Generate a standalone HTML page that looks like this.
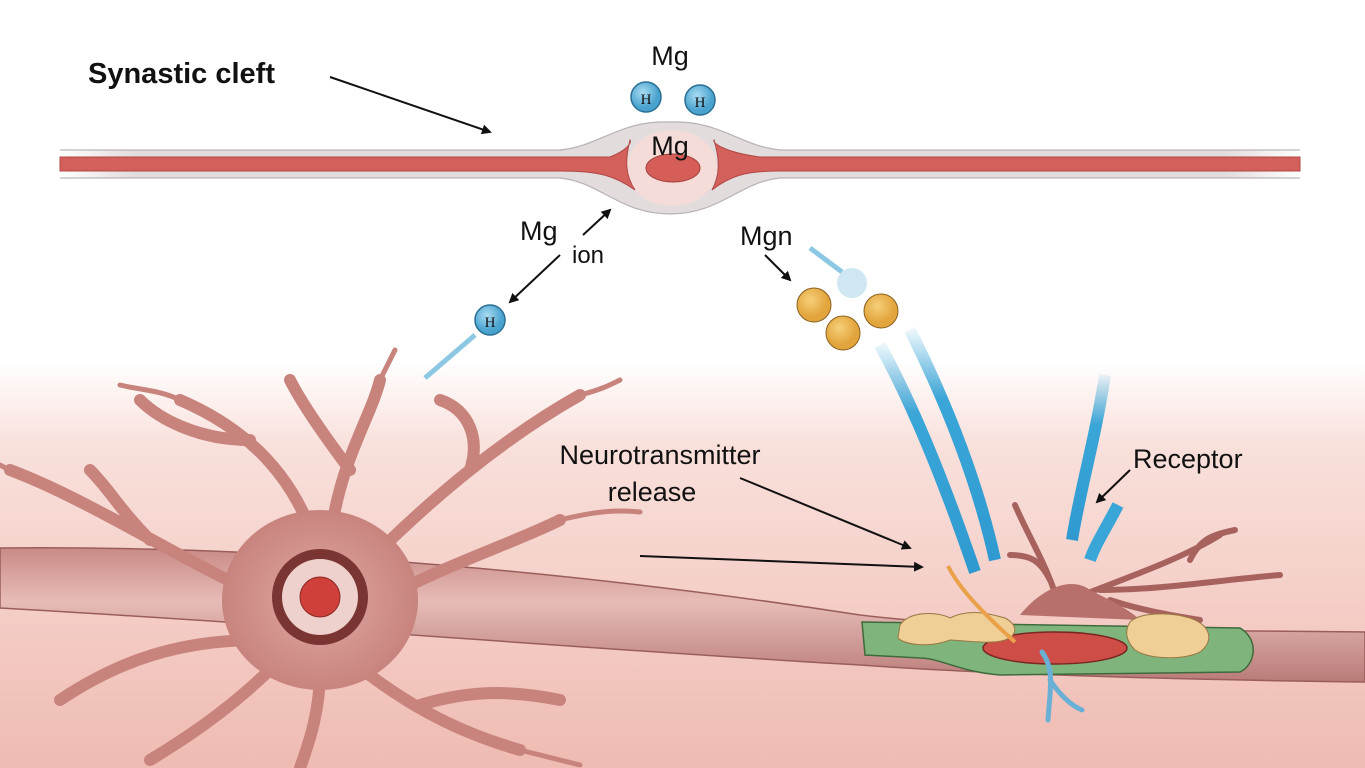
<!DOCTYPE html>
<html><head><meta charset="utf-8"><style>
html,body{margin:0;padding:0;background:#fff}
svg{display:block}
text{font-family:"Liberation Sans",sans-serif;fill:#111}
</style></head><body>
<svg width="1365" height="768" viewBox="0 0 1365 768" xmlns="http://www.w3.org/2000/svg">
<defs>
<linearGradient id="bg" x1="0" y1="0" x2="0" y2="1">
<stop offset="0" stop-color="#fff"/><stop offset="0.47" stop-color="#fff"/><stop offset="0.58" stop-color="#f9e0db"/><stop offset="1" stop-color="#efbbb2"/></linearGradient>
<linearGradient id="ax" x1="0" y1="0" x2="0" y2="1">
<stop offset="0" stop-color="#c98a86"/><stop offset="0.4" stop-color="#e7bcb7"/><stop offset="1" stop-color="#b97b78"/></linearGradient>
<radialGradient id="soma"><stop offset="0" stop-color="#e2aaa4"/><stop offset="1" stop-color="#c8837d"/></radialGradient>
<linearGradient id="blue" x1="0" y1="0" x2="0" y2="1"><stop offset="0" stop-color="#3aa6d8" stop-opacity="0.1"/><stop offset="0.3" stop-color="#3aa6d8"/><stop offset="1" stop-color="#2f9ad0"/></linearGradient>
<marker id="ar" markerWidth="10" markerHeight="10" refX="8" refY="5" orient="auto" markerUnits="userSpaceOnUse"><path d="M0,0 L10,5 L0,10 z" fill="#111"/></marker>
<radialGradient id="hb" cx="0.4" cy="0.35"><stop offset="0" stop-color="#a9dcf2"/><stop offset="1" stop-color="#4aa3cf"/></radialGradient>
<radialGradient id="ob" cx="0.4" cy="0.35"><stop offset="0" stop-color="#f6d07a"/><stop offset="1" stop-color="#e2a43c"/></radialGradient>
<linearGradient id="mem" x1="0" y1="0" x2="1" y2="0"><stop offset="0" stop-color="#e3dcdc" stop-opacity="0"/><stop offset="0.06" stop-color="#e3dcdc"/><stop offset="0.94" stop-color="#e3dcdc"/><stop offset="1" stop-color="#e3dcdc" stop-opacity="0"/></linearGradient>
</defs>
<rect width="1365" height="768" fill="url(#bg)"/>

<path d="M60,150 L560,150 C600,146 620,120 670,122 C720,120 740,146 780,150 L1300,150 L1300,178 L780,178 C740,182 720,214 670,214 C620,214 600,182 560,178 L60,178 Z" fill="url(#mem)"/>
<path d="M60,150 L560,150 C600,146 620,120 670,122 C720,120 740,146 780,150 L1300,150 M1300,178 L780,178 C740,182 720,214 670,214 C620,214 600,182 560,178 L60,178" fill="none" stroke="#a09a9c" stroke-width="1.2" stroke-opacity="0.7"/>
<ellipse cx="672" cy="168" rx="45" ry="38" fill="#f6dcd8"/>
<path d="M60,157 L610,157 C628,150 632,142 630,140 C625,160 625,175 635,190 C615,176 600,171 560,171 L60,171 Z" fill="#d4605c" stroke="#b04845"/>
<path d="M1300,157 L760,157 C722,152 712,142 714,140 C720,160 720,175 712,190 C730,176 745,171 780,171 L1300,171 Z" fill="#d4605c" stroke="#b04845"/>
<ellipse cx="673" cy="168" rx="27" ry="14" fill="#d65e58" stroke="#a0403c"/>
<text x="670" y="155" font-size="27" text-anchor="middle">Mg</text>
<text x="670" y="65" font-size="27" text-anchor="middle">Mg</text>
<circle cx="646" cy="97" r="15" fill="url(#hb)" stroke="#2a6e93" stroke-width="1.5"/><text x="646" y="104" font-size="15" text-anchor="middle" style="font-family:'Liberation Serif'">H</text>
<circle cx="700" cy="100" r="15" fill="url(#hb)" stroke="#2a6e93" stroke-width="1.5"/><text x="700" y="107" font-size="15" text-anchor="middle" style="font-family:'Liberation Serif'">H</text>

<text x="88" y="83" font-size="29" font-weight="bold">Synastic cleft</text>
<line x1="330" y1="77" x2="490" y2="132" stroke="#111" stroke-width="2" marker-end="url(#ar)"/>

<text x="520" y="240" font-size="27">Mg</text>
<text x="572" y="263" font-size="24">ion</text>
<line x1="583" y1="235" x2="610" y2="210" stroke="#111" stroke-width="2" marker-end="url(#ar)"/>
<line x1="560" y1="255" x2="510" y2="302" stroke="#111" stroke-width="2" marker-end="url(#ar)"/>
<line x1="425" y1="378" x2="475" y2="335" stroke="#8cc8e4" stroke-width="5"/>
<circle cx="490" cy="320" r="15" fill="url(#hb)" stroke="#2a6e93" stroke-width="1.5"/><text x="490" y="327" font-size="15" text-anchor="middle" style="font-family:'Liberation Serif'">H</text>

<text x="740" y="245" font-size="27">Mgn</text>
<line x1="765" y1="255" x2="790" y2="280" stroke="#111" stroke-width="2" marker-end="url(#ar)"/>
<line x1="810" y1="248" x2="842" y2="272" stroke="#8cc8e4" stroke-width="5"/>
<circle cx="852" cy="283" r="15" fill="#cfe7f2"/>
<circle cx="814" cy="305" r="17" fill="url(#ob)" stroke="#8a6020"/>
<circle cx="843" cy="333" r="17" fill="url(#ob)" stroke="#8a6020"/>
<circle cx="881" cy="311" r="17" fill="url(#ob)" stroke="#8a6020"/>

<path d="M0,548 C300,545 600,575 860,615 C1000,632 1200,630 1365,632 L1365,682 C1200,680 1000,675 860,665 C600,650 300,625 0,608 Z" fill="url(#ax)" stroke="#9a5e5a" stroke-width="1.5"/>
<g stroke="#c8837d" stroke-width="12" fill="none" stroke-linecap="round">
<path d="M320,560 C300,480 250,430 180,400"/><path d="M250,440 C200,440 160,420 140,400"/>
<path d="M330,540 C340,460 370,420 380,380"/><path d="M350,470 C320,430 300,400 290,380"/>
<path d="M370,560 C430,500 500,440 580,395"/><path d="M470,470 C480,440 470,410 440,400"/>
<path d="M400,590 C460,560 520,540 560,520"/>
<path d="M270,600 C180,560 90,500 10,470"/><path d="M150,540 C120,510 110,490 90,470"/>
<path d="M350,660 C400,700 450,730 520,750"/><path d="M420,705 C470,690 510,690 560,700"/>
<path d="M280,660 C240,700 200,730 150,760"/><path d="M320,670 C320,710 310,740 300,768"/>
<path d="M260,640 C180,640 120,660 60,700"/>
</g>
<g stroke="#c8837d" stroke-width="5" fill="none" stroke-linecap="round">
<path d="M180,400 C160,390 140,390 120,385"/><path d="M380,380 C385,370 390,360 395,350"/><path d="M580,395 C600,390 610,385 620,380"/>
<path d="M10,470 C5,468 2,466 0,465"/><path d="M520,750 C540,755 560,760 580,765"/><path d="M560,520 C600,510 620,510 640,512"/>
</g>
<ellipse cx="320" cy="600" rx="98" ry="90" fill="url(#soma)"/>
<circle cx="320" cy="597" r="48" fill="#7a3532"/>
<circle cx="320" cy="597" r="38" fill="#eed0cd"/>
<circle cx="320" cy="597" r="20" fill="#d0403a" stroke="#8a2a26"/>

<text x="660" y="464" font-size="27" text-anchor="middle">Neurotransmitter</text>
<text x="652" y="501" font-size="27" text-anchor="middle">release</text>
<line x1="740" y1="478" x2="910" y2="548" stroke="#111" stroke-width="2" marker-end="url(#ar)"/>
<line x1="640" y1="556" x2="922" y2="567" stroke="#111" stroke-width="2" marker-end="url(#ar)"/>
<text x="1133" y="468" font-size="27">Receptor</text>
<line x1="1130" y1="470" x2="1097" y2="502" stroke="#111" stroke-width="2" marker-end="url(#ar)"/>

<path d="M880,345 C910,400 940,470 975,572" stroke="url(#blue)" stroke-width="12" fill="none"/>
<path d="M910,330 C940,390 975,470 995,560" stroke="url(#blue)" stroke-width="12" fill="none"/>
<path d="M1105,375 C1095,440 1080,490 1072,540" stroke="url(#blue)" stroke-width="12" fill="none"/>
<path d="M1118,505 C1105,530 1095,545 1090,560" stroke="#3aa6d8" stroke-width="12" fill="none"/>

<g stroke="#a8625e" stroke-width="6" fill="none" stroke-linecap="round">
<path d="M1060,610 C1050,570 1030,540 1015,505"/><path d="M1050,580 C1040,560 1030,555 1010,555"/>
<path d="M1070,600 C1120,580 1180,560 1220,535"/><path d="M1100,590 C1160,590 1220,580 1280,575"/>
<path d="M1110,600 C1140,610 1170,615 1200,620"/><path d="M1190,560 C1200,540 1210,535 1235,530"/>
</g>
<path d="M1020,615 C1040,590 1070,575 1090,590 C1110,600 1130,610 1140,620 Z" fill="#b8706c"/>
<path d="M862,622 L1240,628 C1260,640 1255,665 1240,672 L1000,675 C960,672 940,658 920,658 L865,655 Z" fill="#7fb47c" stroke="#3e6a3c" stroke-width="1.5"/>
<ellipse cx="1055" cy="648" rx="72" ry="16" fill="#cf4d47" stroke="#7a2622" stroke-width="1.5"/>
<path d="M900,625 C910,610 940,612 950,618 C970,608 990,614 1005,618 C1018,625 1018,635 1005,640 C990,645 960,640 950,640 C930,648 905,645 898,638 Z" fill="#f0cf96" stroke="#9a7844"/>
<path d="M1130,622 C1140,612 1170,612 1190,618 C1210,625 1215,640 1200,652 C1185,660 1150,660 1135,650 C1125,640 1125,630 1130,622 Z" fill="#f0cf96" stroke="#9a7844"/>
<path d="M948,566 C960,590 985,615 1015,642" stroke="#e9a24a" stroke-width="4" fill="none"/>
<path d="M1042,652 C1055,670 1050,690 1048,720 M1050,680 C1060,695 1070,705 1082,710" stroke="#6ab0d6" stroke-width="5" fill="none" stroke-linecap="round"/>
</svg>
</body></html>
